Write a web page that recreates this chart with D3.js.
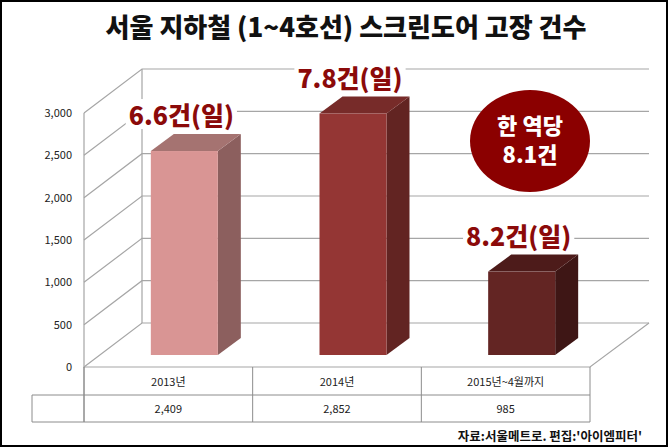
<!DOCTYPE html>
<html><head><meta charset="utf-8">
<script src="https://cdn.jsdelivr.net/npm/d3@7"></script>
<style>body{margin:0;background:#fff}svg{display:block;font-family:"Noto Sans CJK KR","Noto Sans",sans-serif}</style>
</head><body><div id="chart"></div>
<script>
const categories = ["2013년", "2014년", "2015년~4월까지"];
const values = [2409, 2852, 985];
const valueLabels = ["2,409", "2,852", "985"];
const perDay = ["6.6건(일)", "7.8건(일)", "8.2건(일)"];
const ticks = [0, 500, 1000, 1500, 2000, 2500, 3000];
const colors = [
  { front: "#d99594", side: "#8c5f5e", top: "#a57371" },
  { front: "#943634", side: "#622422", top: "#772b29" },
  { front: "#632523", side: "#3e1615", top: "#4d1b1a" }
];

const W = 668, H = 447;
const svg = d3.select("#chart").append("svg").attr("width", W).attr("height", H);
svg.append("rect").attr("x", 1).attr("y", 1).attr("width", W - 2).attr("height", H - 2)
  .attr("fill", "#fff").attr("stroke", "#000").attr("stroke-width", 2);

svg.append("text").attr("x", 346).attr("y", 37).attr("text-anchor", "middle")
  .attr("font-size", 26).attr("font-weight", 900).attr("fill", "#111")
  .text("서울 지하철 (1~4호선) 스크린도어 고장 건수");

const y = d3.scaleLinear().domain([0, 3000]).range([367, 113]);
const x = d3.scaleBand().domain(categories).range([84, 590]);
const DX = 58, DY = -44; // back wall offset
const grid = "#a6a6a6";

// gridlines: diagonal on left side wall + horizontal on back wall
ticks.forEach(t => {
  svg.append("path").attr("fill", "none").attr("stroke", grid).attr("stroke-width", 1.2)
    .attr("d", `M84,${y(t)}L${84 + DX},${y(t) + DY}L649,${y(t) + DY}`);
  svg.append("text").attr("x", 72).attr("y", y(t) + 4).attr("text-anchor", "end")
    .attr("font-size", 11).attr("fill", "#222").text(d3.format(",")(t));
});
svg.append("path").attr("fill", "none").attr("stroke", grid).attr("stroke-width", 1.2)
  .attr("d", `M84,${y(3000)}L84,${y(0)}L590,${y(0)}L649,${y(0) + DY}M${84 + DX},${y(3000) + DY}L${84 + DX},${y(0) + DY}`);

// bars
const bw = 67, fx = 16, fy = -12, bdx = 23, bdy = -17;
values.forEach((v, i) => {
  const c = colors[i];
  const x0 = x(categories[i]) + x.bandwidth() / 2 - bw / 2 + fx;
  const x1 = x0 + bw, yb = y(0) + fy, yt = y(v) + fy;
  svg.append("path").attr("fill", c.side)
    .attr("d", `M${x1},${yt}L${x1 + bdx},${yt + bdy}L${x1 + bdx},${yb + bdy}L${x1},${yb}Z`);
  svg.append("path").attr("fill", c.top)
    .attr("d", `M${x0},${yt}L${x0 + bdx},${yt + bdy}L${x1 + bdx},${yt + bdy}L${x1},${yt}Z`);
  svg.append("rect").attr("x", x0).attr("y", yt).attr("width", bw).attr("height", yb - yt).attr("fill", c.front);
  const lx = x0 + bw / 2 - 3, ly = yt - 26;
  const lab = svg.append("text").attr("x", lx).attr("y", ly).attr("text-anchor", "middle")
    .attr("font-size", 25).attr("font-weight", 900).attr("fill", "#8b0a0a").text(perDay[i]);
  const bb = lab.node().getBBox();
  svg.insert("rect", () => lab.node()).attr("x", bb.x - 3).attr("y", bb.y + 3)
    .attr("width", bb.width + 6).attr("height", bb.height - 6).attr("fill", "#fff");
});

// circle badge
svg.append("ellipse").attr("cx", 530).attr("cy", 141).attr("rx", 60).attr("ry", 51).attr("fill", "#8b0000");
svg.append("text").attr("x", 530).attr("y", 134).attr("text-anchor", "middle").attr("font-size", 22)
  .attr("font-weight", 900).attr("fill", "#fff").text("한 역당");
svg.append("text").attr("x", 530).attr("y", 163).attr("text-anchor", "middle").attr("font-size", 22)
  .attr("font-weight", 900).attr("fill", "#fff").text("8.1건");

// data table
const tc = "#8c8c8c";
const r0 = 367, r1 = 395, r2 = 422;
svg.append("path").attr("fill", "none").attr("stroke", tc)
  .attr("d", `M84,${r0}L84,${r2}M32,${r1}L590,${r1}M32,${r2}L590,${r2}M32,${r1}L32,${r2}M590,${r0}L590,${r2}` +
    categories.map(c => `M${x(c)},${r0}L${x(c)},${r2}`).join(""));
categories.forEach((c, i) => {
  const cx = x(c) + x.bandwidth() / 2;
  svg.append("text").attr("x", cx).attr("y", r0 + 19).attr("text-anchor", "middle").attr("font-size", 11).attr("fill", "#222").text(c);
  svg.append("text").attr("x", cx).attr("y", r1 + 18).attr("text-anchor", "middle").attr("font-size", 11).attr("fill", "#222").text(valueLabels[i]);
});

svg.append("text").attr("x", 642).attr("y", 441).attr("text-anchor", "end").attr("font-size", 12.5)
  .attr("font-weight", "bold").attr("fill", "#111").text("자료:서울메트로. 편집:'아이엠피터'");
</script></body></html>
